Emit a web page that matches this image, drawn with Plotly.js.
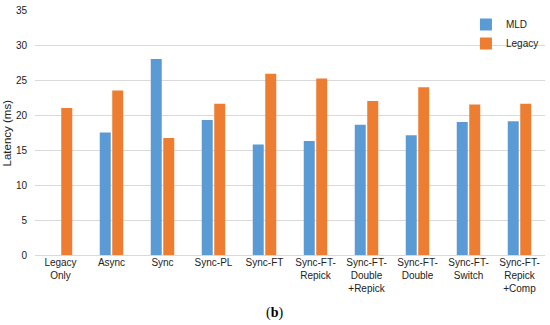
<!DOCTYPE html>
<html>
<head>
<meta charset="utf-8">
<script src="https://cdn.plot.ly/plotly-3.0.1.min.js"></script>
<style>html,body{margin:0;padding:0;background:#fff;}#chart{width:550px;height:325px;}</style>
</head>
<body>
<div id="chart"></div>
<script>
const categories = ["Legacy<br>Only", "Async", "Sync", "Sync-PL", "Sync-FT", "Sync-FT-<br>Repick", "Sync-FT-<br>Double<br>+Repick", "Sync-FT-<br>Double", "Sync-FT-<br>Switch", "Sync-FT-<br>Repick<br>+Comp"];
const mld = [null, 17.5, 28.0, 19.3, 15.8, 16.3, 18.6, 17.1, 19.0, 19.1];
const legacy = [21.0, 23.5, 16.7, 21.6, 25.9, 25.2, 22.0, 23.95, 21.5, 21.6];
const yTicks = [0, 5, 10, 15, 20, 25, 30, 35];
const yTitle = "Latency (ms)";

const font = "Liberation Sans, Arial, sans-serif";
const data = [
  {type: "bar", name: "MLD", x: categories, y: mld, marker: {color: "#5B9BD5"}},
  {type: "bar", name: "Legacy", x: categories, y: legacy, marker: {color: "#ED7D31"}}
];
const layout = {
  width: 550, height: 325,
  margin: {l: 35, r: 5, t: 10, b: 70},
  paper_bgcolor: "#fff", plot_bgcolor: "#fff",
  barmode: "group", bargap: 0.51, bargroupgap: 0.12,
  font: {family: font, size: 10, color: "#222"},
  xaxis: {tickangle: 0, showgrid: false, zeroline: false, showline: false, ticks: "", tickfont: {size: 10}, automargin: false},
  yaxis: {range: [0, 35], tickvals: yTicks, showgrid: true, gridcolor: "#d9d9d9", gridwidth: 1, zeroline: true, zerolinecolor: "#d9d9d9", zerolinewidth: 1,
          ticks: "outside", ticklen: 5, tickcolor: "rgba(0,0,0,0)", tickfont: {size: 10}, automargin: false},
  legend: {x: 0.845, y: 1.0, xanchor: "left", yanchor: "top", font: {size: 10}, itemwidth: 30, bgcolor: "rgba(0,0,0,0)", tracegroupgap: 0},
  annotations: [
    {text: yTitle, xref: "paper", yref: "paper", x: -0.055, y: 0.5, xanchor: "center", yanchor: "middle", textangle: -90, showarrow: false,
     font: {family: font, size: 11.5, color: "#222"}},
    {text: "(<b>b</b>)", xref: "paper", yref: "paper", x: 0.47, y: -0.235, xanchor: "center", yanchor: "middle", showarrow: false,
     font: {family: "Liberation Serif, Times New Roman, serif", size: 14, color: "#000"}}]
};
Plotly.newPlot("chart", data, layout, {displayModeBar: false, staticPlot: true});
</script>
</body>
</html>
